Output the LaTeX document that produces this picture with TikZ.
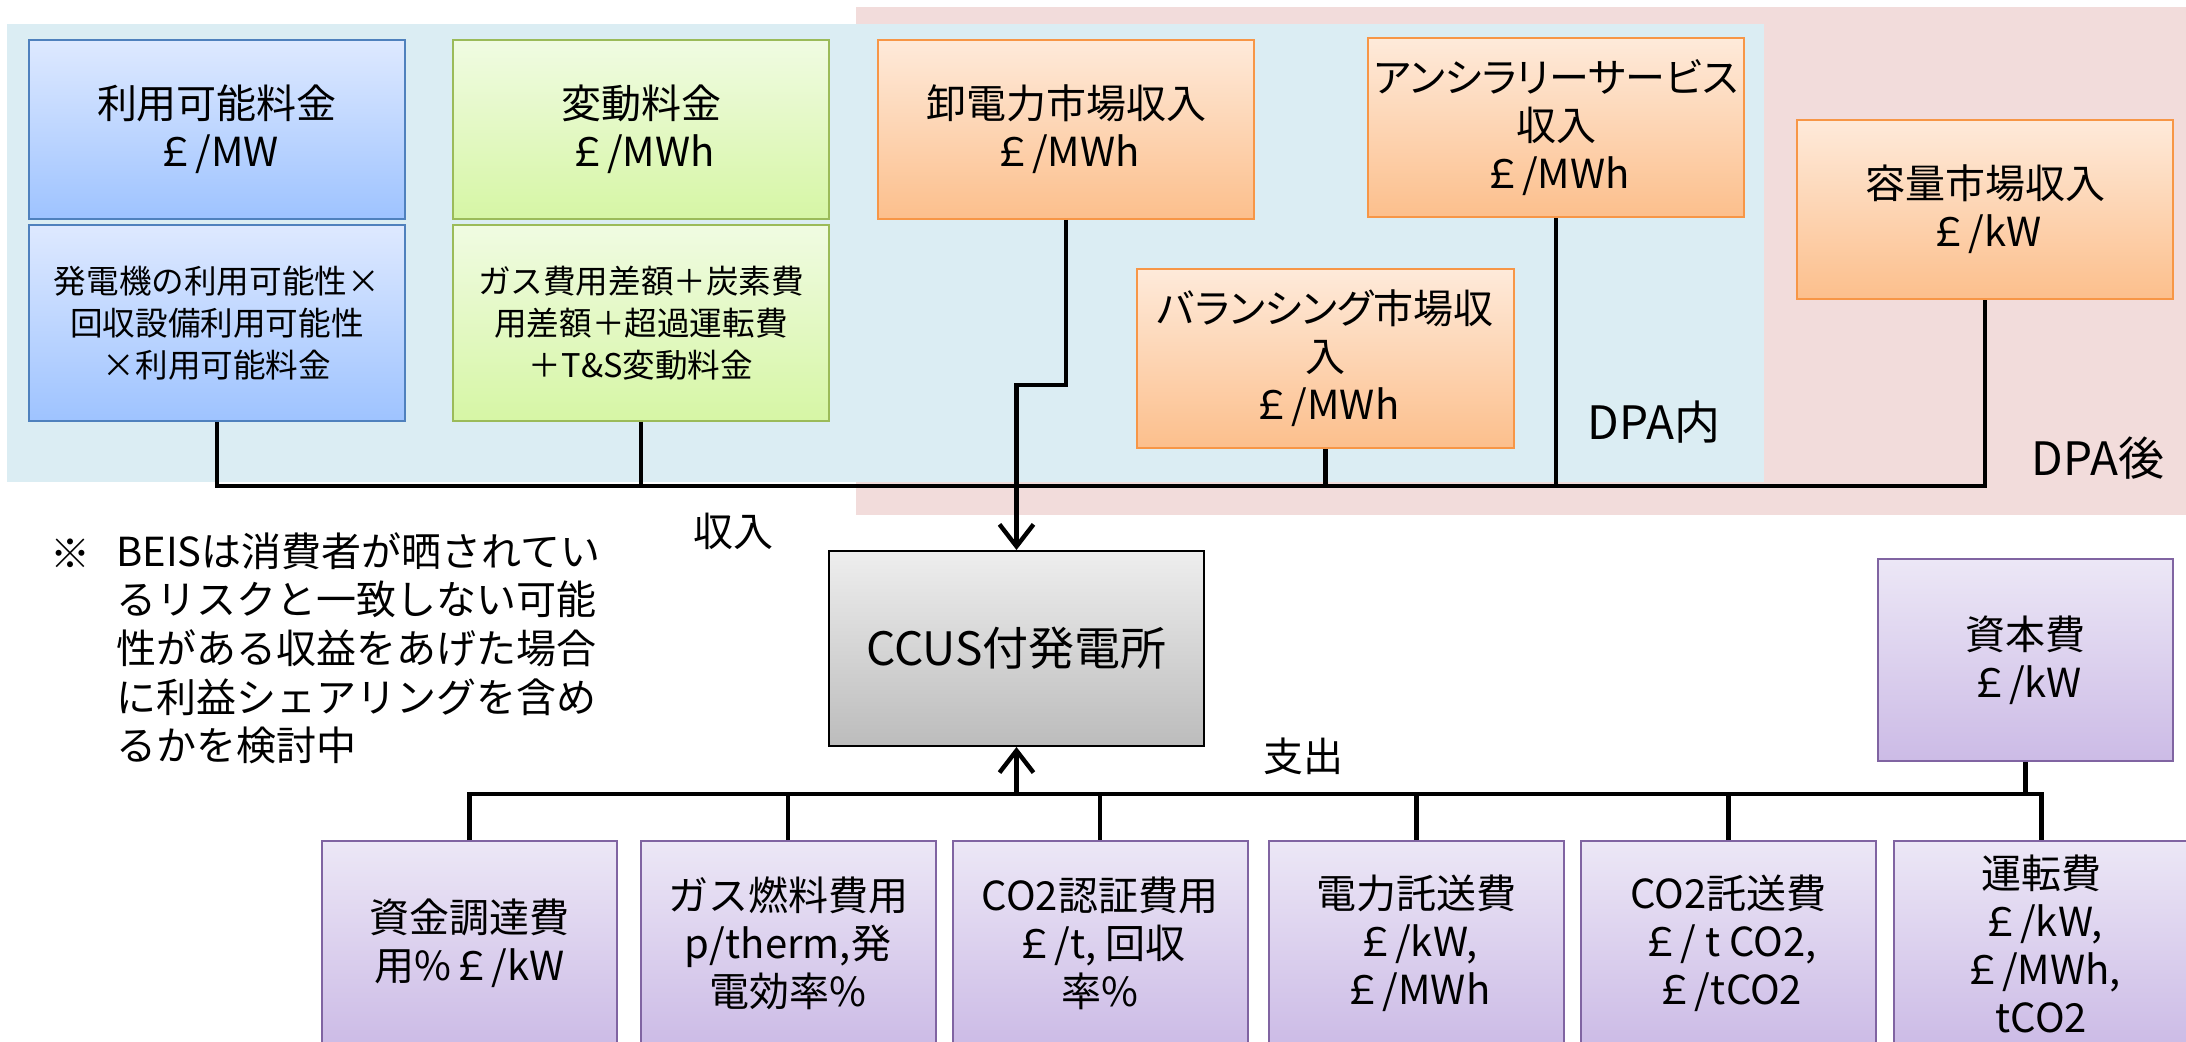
\documentclass[tikz,border=0pt]{standalone}
\usepackage{fontspec}
\setmainfont{Noto Sans CJK JP}
\newfontfamily\propfont[RawFeature=+palt]{Noto Sans CJK JP}
\usetikzlibrary{arrows.meta}
\definecolor{bluebg}{RGB}{219,237,243}
\definecolor{pinkbg}{RGB}{242,220,219}
\definecolor{bluet}{RGB}{222,233,255}
\definecolor{blueb}{RGB}{158,195,255}
\definecolor{bluebd}{RGB}{79,129,189}
\definecolor{greent}{RGB}{240,251,226}
\definecolor{greenb}{RGB}{214,246,165}
\definecolor{greenbd}{RGB}{155,187,89}
\definecolor{orat}{RGB}{254,234,218}
\definecolor{orab}{RGB}{252,191,140}
\definecolor{orabd}{RGB}{247,150,70}
\definecolor{purt}{RGB}{236,231,246}
\definecolor{purb}{RGB}{204,187,230}
\definecolor{purbd}{RGB}{128,100,162}
\definecolor{grayt}{RGB}{238,238,238}
\definecolor{grayb}{RGB}{188,188,188}
\newcommand\fszA{\fontsize{20}{24}\selectfont}
\newcommand\fszB{\fontsize{16.3}{21}\selectfont}
\newcommand\fszC{\fontsize{23}{28}\selectfont}
\newcommand\fszD{\fontsize{23}{26}\selectfont}
\tikzset{
  box/.style={draw, line width=1pt, inner sep=0pt, align=center, font=\fszA},
  bluebox/.style={box, draw=bluebd, top color=bluet, bottom color=blueb},
  greenbox/.style={box, draw=greenbd, top color=greent, bottom color=greenb},
  orabox/.style={box, draw=orabd, top color=orat, bottom color=orab},
  purbox/.style={box, draw=purbd, top color=purt, bottom color=purb},
  graybox/.style={box, draw=black, top color=grayt, bottom color=grayb, font=\fszC},
  wideA/.style={minimum width=188pt, minimum height=89.5pt},
  lowA/.style={minimum width=188pt, minimum height=98pt},
  botbox/.style={purbox, minimum width=147.5pt, minimum height=102.5pt},
  lbl/.style={inner sep=0pt, font=\fszA},
  conn/.style={draw=black, line width=2.2pt},
  arr/.style={-{Straight Barb[length=11pt,width=17pt]}}
}
\begin{document}
\begin{tikzpicture}[x=0.5pt,y=-0.5pt]
\useasboundingbox (0,0) rectangle (2186,1042);
% background zones
\fill[pinkbg] (856,7) rectangle (2186,515);
\fill[bluebg] (7,24) rectangle (1764,482);
% income boxes
\node[bluebox, wideA] (avail) at (217,129.5) {利用可能料金\\￡/MW};
\node[bluebox, lowA, font=\fszB] (availf) at (217,323) {発電機の利用可能性×\\回収設備利用可能性\\×利用可能料金};
\node[greenbox, wideA] (var) at (641,129.5) {変動料金\\￡/MWh};
\node[greenbox, lowA, font=\fszB] (varf) at (641,323) {ガス費用差額＋炭素費\\用差額＋超過運転費\\＋T\&S変動料金};
\node[orabox, wideA] (whole) at (1066,129.5) {卸電力市場収入\\￡/MWh};
\node[orabox, wideA, font=\fszA\propfont] (anc) at (1556,128) {アンシラリーサービス\\収入\\￡/MWh};
\node[orabox, minimum width=188.5pt, minimum height=89.5pt, font=\fszA\propfont] (bal) at (1325.5,358.5) {バランシング市場収\\入\\￡/MWh};
\node[orabox, wideA] (cap) at (1985,209.5) {容量市場収入\\￡/kW};
% plant
\node[graybox, minimum width=187.5pt, minimum height=97.5pt] (ccus) at (1016.5,648.5) {CCUS付発電所};
% expenditure boxes
\node[purbox, minimum width=147.5pt, minimum height=101pt] (capex) at (2025.5,660) {資本費\\￡/kW};
\node[botbox] (fin) at (469.5,943.5) {資金調達費\\用\%￡/kW};
\node[botbox] (gas) at (788,943.5) {ガス燃料費用\\p/therm,発\\電効率\%};
\node[botbox] (co2c) at (1100,943.5) {CO2認証費用\\￡/t, 回収\\率\%};
\node[botbox] (elec) at (1416.5,943.5) {電力託送費\\￡/kW,\\￡/MWh};
\node[botbox] (co2t) at (1728.5,943.5) {CO2託送費\\￡/ t CO2,\\￡/tCO2};
\node[botbox] (opex) at (2041.5,943.5) {運転費\\￡/kW,\\￡/MWh,\\tCO2};
% labels
\node[lbl] (inc) at (733,531) {収入};
\node[lbl] (exp) at (1303,756) {支出};
\node[lbl, font=\fszD] (dpain) at (1654,422) {DPA内};
\node[lbl, font=\fszD] (dpaafter) at (2098,458) {DPA後};
\node[lbl] (mark) at (70,554) {※};
\node[lbl, anchor=north west, align=left, font=\fontsize{20}{24.3}\selectfont] (note) at (116,532) {BEISは消費者が晒されてい\\るリスクと一致しない可能\\性がある収益をあげた場合\\に利益シェアリングを含め\\るかを検討中};
% income connectors
\coordinate (tL) at (217,486);
\coordinate (tR) at (1985,486);
\coordinate (jog) at (1016.5,385);
\draw[conn] (availf.south) |- (tR) -- (cap.south);
\draw[conn] (varf.south) -- (varf.south |- tL);
\draw[conn] (bal.south) -- (bal.south |- tL);
\draw[conn] (anc.south) -- (anc.south |- tL);
\draw[conn, arr] (whole.south) |- (jog) -- (ccus.north);
% expenditure connectors
\coordinate (bL) at (470,794);
\draw[conn] (fin.north) |- (opex.north |- bL) -- (opex.north);
\draw[conn] (gas.north) -- (gas.north |- bL);
\draw[conn] (co2c.north) -- (co2c.north |- bL);
\draw[conn] (elec.north) -- (elec.north |- bL);
\draw[conn] (co2t.north) -- (co2t.north |- bL);
\draw[conn] (capex.south) -- (capex.south |- bL);
\draw[conn, arr] (ccus.south |- bL) -- (ccus.south);
\end{tikzpicture}
\end{document}
